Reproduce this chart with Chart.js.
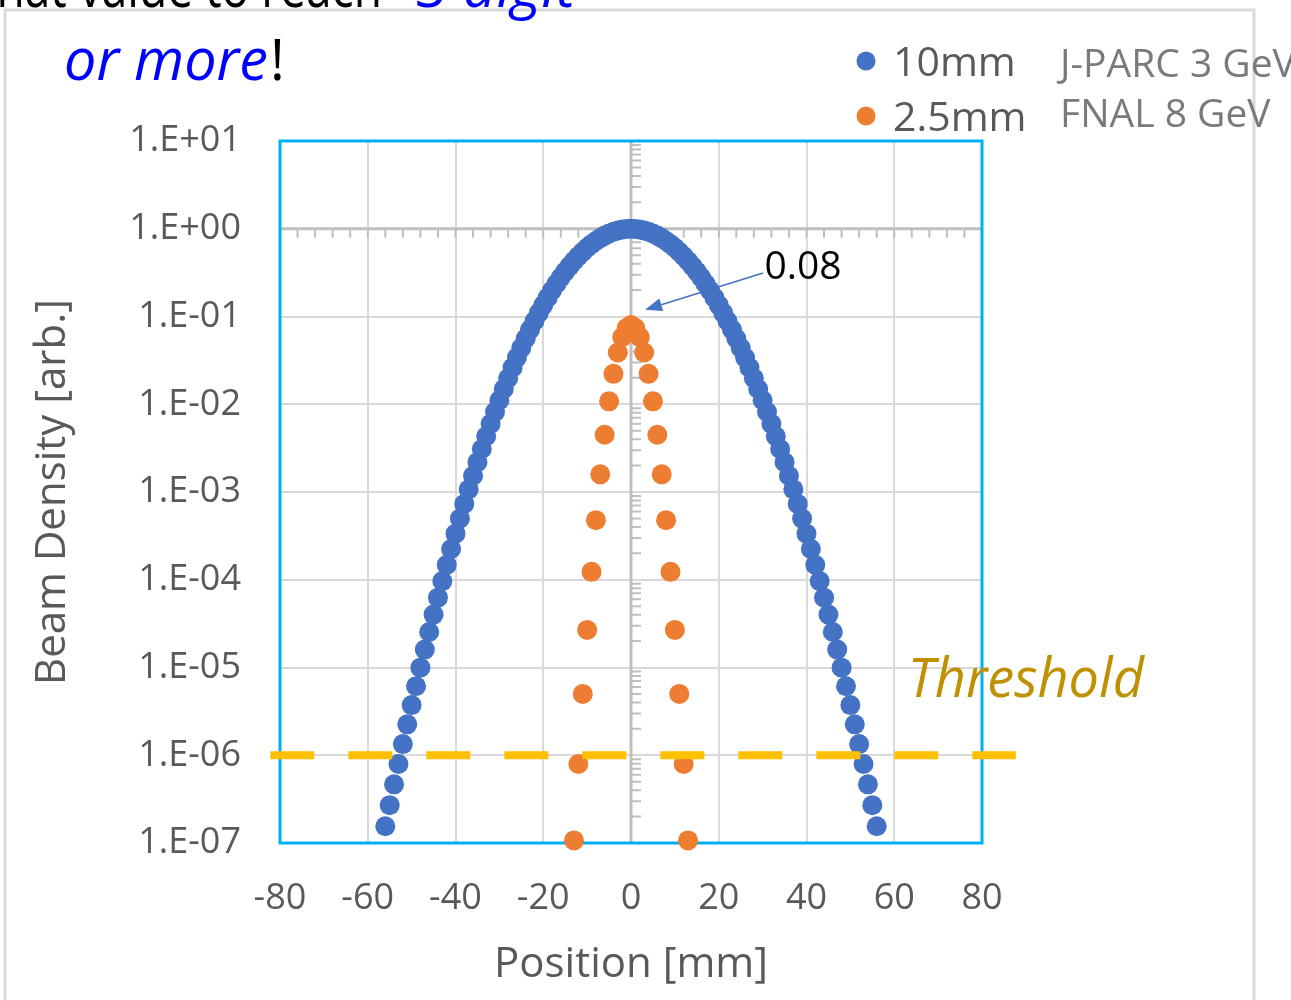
<!DOCTYPE html>
<html>
<head>
<meta charset="utf-8">
<script src="https://cdn.jsdelivr.net/npm/chart.js@4.4.1/dist/chart.umd.min.js"></script>
<style>
  html, body { margin: 0; padding: 0; background: #fff; }
  #wrap { width: 1291px; height: 1000px; position: relative; }
</style>
</head>
<body>
<div id="wrap"><canvas id="chart"></canvas></div>
<script>
// 10mm beam (J-PARC 3 GeV), one point per mm
const pos10 = [-56,-55,-54,-53,-52,-51,-50,-49,-48,-47,-46,-45,-44,-43,-42,-41,-40,-39,-38,-37,-36,-35,-34,-33,-32,-31,-30,-29,-28,-27,-26,-25,-24,-23,-22,-21,-20,-19,-18,-17,-16,-15,-14,-13,-12,-11,-10,-9,-8,-7,-6,-5,-4,-3,-2,-1,0,1,2,3,4,5,6,7,8,9,10,11,12,13,14,15,16,17,18,19,20,21,22,23,24,25,26,27,28,29,30,31,32,33,34,35,36,37,38,39,40,41,42,43,44,45,46,47,48,49,50,51,52,53,54,55,56];
const density10 = [1.55e-7,2.70e-7,4.66e-7,7.95e-7,1.34e-6,2.25e-6,3.73e-6,6.11e-6,9.95e-6,1.60e-5,2.54e-5,4.01e-5,6.25e-5,9.65e-5,1.48e-4,2.24e-4,3.35e-4,4.98e-4,7.32e-4,0.00107,0.00153,0.00219,0.00309,0.00432,0.00598,0.00819,0.0111,0.0149,0.0198,0.0261,0.0340,0.0439,0.0561,0.0710,0.0889,0.110,0.135,0.164,0.198,0.236,0.278,0.325,0.375,0.430,0.487,0.546,0.607,0.667,0.726,0.783,0.835,0.882,0.923,0.956,0.980,0.995,
  1,
  0.995,0.980,0.956,0.923,0.882,0.835,0.783,0.726,0.667,0.607,0.546,0.487,0.430,0.375,0.325,0.278,0.236,0.198,0.164,0.135,0.110,0.0889,0.0710,0.0561,0.0439,0.0340,0.0261,0.0198,0.0149,0.0111,0.00819,0.00598,0.00432,0.00309,0.00219,0.00153,0.00107,7.32e-4,4.98e-4,3.35e-4,2.24e-4,1.48e-4,9.65e-5,6.25e-5,4.01e-5,2.54e-5,1.60e-5,9.95e-6,6.11e-6,3.73e-6,2.25e-6,1.34e-6,7.95e-7,4.66e-7,2.70e-7,1.55e-7];

// 2.5mm beam (FNAL 8 GeV)
const pos25 = [-13,-12,-11,-10,-9,-8,-7,-6,-5,-4,-3,-2,-1,0,1,2,3,4,5,6,7,8,9,10,11,12,13];
const density25 = [1.07e-7,7.94e-7,5.00e-6,2.68e-5,1.23e-4,4.78e-4,0.00159,0.00449,0.0108,0.0222,0.0389,0.0581,0.0738,0.08,0.0738,0.0581,0.0389,0.0222,0.0108,0.00449,0.00159,4.78e-4,1.23e-4,2.68e-5,5.00e-6,7.94e-7,1.07e-7];

const thresholdX = [-82.2, 87.7];
const thresholdY = [1e-6, 1e-6];

const xTicks = [-80, -60, -40, -20, 0, 20, 40, 60, 80];
const yTicks = [1e-7, 1e-6, 1e-5, 1e-4, 1e-3, 1e-2, 1e-1, 1, 10];

const seriesNames = ['10mm', '2.5mm'];
const machineNames = ['J-PARC 3 GeV', 'FNAL 8 GeV'];
const peakLabel = '0.08';

const BLUE = '#4472c4';
const ORANGE = '#ed7d31';
const GRAY = '#595959';

function sciLabel(v) {
  const e = Math.round(Math.log10(v));
  const s = String(Math.abs(e)).padStart(2, '0');
  return '1.E' + (e < 0 ? '-' : '+') + s;
}

const decor = {
  id: 'decor',
  beforeDatasetsDraw(chart) {
    const { ctx, chartArea: a, scales: { x, y } } = chart;
    const x0 = x.getPixelForValue(0);
    const y1 = y.getPixelForValue(1);
    ctx.save();
    ctx.strokeStyle = '#bfbfbf';
    // horizontal axis crossing at 1.E+00
    ctx.lineWidth = 3;
    ctx.beginPath(); ctx.moveTo(a.left, y1); ctx.lineTo(a.right, y1); ctx.stroke();
    ctx.lineWidth = 2;
    ctx.beginPath();
    for (let v = -76; v < 80; v += 4) {
      const px = x.getPixelForValue(v);
      ctx.moveTo(px, y1); ctx.lineTo(px, y1 + 9);
    }
    ctx.stroke();
    // vertical axis crossing at 0
    ctx.lineWidth = 3;
    ctx.beginPath(); ctx.moveTo(x0, a.top); ctx.lineTo(x0, a.bottom); ctx.stroke();
    ctx.lineWidth = 2;
    ctx.beginPath();
    for (let e = -7; e <= 0; e++) {
      for (let k = 2; k <= 9; k++) {
        const py = y.getPixelForValue(k * Math.pow(10, e));
        ctx.moveTo(x0, py); ctx.lineTo(x0 + 10, py);
      }
    }
    ctx.stroke();
    // plot border
    ctx.strokeStyle = '#00b0f0';
    ctx.lineWidth = 3;
    ctx.strokeRect(a.left, a.top, a.right - a.left, a.bottom - a.top);
    ctx.restore();
  },
  afterDraw(chart) {
    const { ctx, scales: { x, y } } = chart;
    ctx.save();
    // outer frame
    ctx.strokeStyle = '#d9d9d9';
    ctx.lineWidth = 3;
    ctx.beginPath();
    ctx.moveTo(5, 1010); ctx.lineTo(5, 10); ctx.lineTo(1254, 10); ctx.lineTo(1254, 1010);
    ctx.stroke();

    ctx.textBaseline = 'alphabetic';
    ctx.textAlign = 'left';
    // heading text cut at top
    ctx.fillStyle = '#000';
    ctx.font = '58px "Open Sans"';
    ctx.fillText('that value to reach \u201C', -20, 7, 430);
    ctx.fillStyle = '#0000ff';
    ctx.font = 'italic 58px "Open Sans"';
    ctx.fillText('3 digit', 416, 7, 160);
    ctx.fillText('or more', 64, 80, 204);
    ctx.fillStyle = '#000';
    ctx.font = '56px "Open Sans"';
    ctx.fillText('!', 270, 80);

    // legend
    const dots = [BLUE, ORANGE];
    const rowY = [61, 116];
    const baseY = [76, 131];
    const machY = [77, 127];
    for (let i = 0; i < 2; i++) {
      ctx.fillStyle = dots[i];
      ctx.beginPath(); ctx.arc(866, rowY[i], 9.5, 0, Math.PI * 2); ctx.fill();
      ctx.fillStyle = GRAY;
      ctx.font = '41px "Open Sans"';
      ctx.fillText(seriesNames[i], 893, baseY[i]);
      ctx.fillStyle = '#7a7a7a';
      ctx.font = '39px "Open Sans"';
      ctx.fillText(machineNames[i], 1060, machY[i]);
    }

    // peak annotation with arrow
    const tipX = x.getPixelForValue(3.2), tipY = y.getPixelForValue(0.119);
    const tailX = x.getPixelForValue(30.1), tailY = y.getPixelForValue(0.313);
    ctx.strokeStyle = BLUE;
    ctx.fillStyle = BLUE;
    ctx.lineWidth = 1.5;
    const ang = Math.atan2(tipY - tailY, tipX - tailX);
    const hl = 17, hw = 6.5;
    const bx = tipX - hl * Math.cos(ang), by = tipY - hl * Math.sin(ang);
    ctx.beginPath(); ctx.moveTo(tailX, tailY); ctx.lineTo(bx, by); ctx.stroke();
    ctx.beginPath();
    ctx.moveTo(tipX, tipY);
    ctx.lineTo(bx + hw * Math.sin(ang), by - hw * Math.cos(ang));
    ctx.lineTo(bx - hw * Math.sin(ang), by + hw * Math.cos(ang));
    ctx.closePath(); ctx.fill();
    ctx.fillStyle = '#000';
    ctx.font = '39px "Open Sans"';
    ctx.fillText(peakLabel, x.getPixelForValue(30.4), y.getPixelForValue(0.267));

    // threshold label
    ctx.fillStyle = '#bf9000';
    ctx.font = 'italic 55px "Open Sans"';
    ctx.fillText('Threshold', x.getPixelForValue(63.1), y.getPixelForValue(4.6e-6), 236);
    ctx.restore();
  }
};

const ctx = document.getElementById('chart').getContext('2d');
new Chart(ctx, {
  type: 'scatter',
  data: {
    datasets: [
      {
        label: 'Threshold',
        data: thresholdX.map((v, i) => ({ x: v, y: thresholdY[i] })),
        showLine: true,
        borderColor: '#ffc000',
        borderWidth: 8,
        borderDash: [44, 34],
        pointRadius: 0,
        clip: false,
        order: 0,
      },
      {
        label: seriesNames[1],
        data: pos25.map((v, i) => ({ x: v, y: density25[i] })),
        backgroundColor: ORANGE,
        borderWidth: 0,
        pointRadius: 10,
        clip: false,
        order: 1,
      },
      {
        label: seriesNames[0],
        data: pos10.map((v, i) => ({ x: v, y: density10[i] })),
        backgroundColor: BLUE,
        borderWidth: 0,
        pointRadius: 10,
        clip: false,
        order: 2,
      },
    ],
  },
  options: {
    responsive: true,
    maintainAspectRatio: false,
    animation: false,
    devicePixelRatio: 1,
    layout: { padding: { left: 0, right: 309, top: 141, bottom: 0 } },
    plugins: { legend: { display: false }, tooltip: { enabled: false } },
    scales: {
      x: {
        type: 'linear',
        min: -80,
        max: 80,
        afterFit: (s) => { s.height = 157; },
        afterBuildTicks: (s) => { s.ticks = xTicks.map((v) => ({ value: v })); },
        ticks: { color: GRAY, font: { family: 'Open Sans', size: 36 }, padding: 34, autoSkip: false, maxRotation: 0 },
        grid: { color: '#d9d9d9', lineWidth: 2, drawTicks: false },
        border: { display: false },
        title: { display: true, text: 'Position [mm]', color: GRAY, font: { family: 'Open Sans', size: 42 }, padding: { top: 0, bottom: 10 } },
      },
      y: {
        type: 'logarithmic',
        min: 1e-7,
        max: 10,
        afterFit: (s) => { s.width = 280; },
        afterBuildTicks: (s) => { s.ticks = yTicks.map((v) => ({ value: v, major: true })); },
        ticks: { color: GRAY, font: { family: 'Open Sans', size: 36 }, padding: 39, autoSkip: false, callback: (v) => sciLabel(v) },
        grid: { color: '#d9d9d9', lineWidth: 2, drawTicks: false },
        border: { display: false },
        title: { display: true, text: 'Beam Density [arb.]', color: GRAY, font: { family: 'Open Sans', size: 42 }, padding: { top: 28, bottom: 0 } },
      },
    },
  },
  plugins: [decor],
});
</script>
</body>
</html>
